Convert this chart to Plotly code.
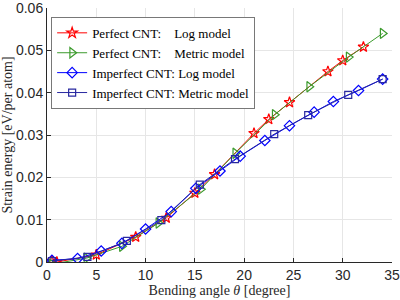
import plotly.graph_objects as go

# Perfect CNT: Log model (red stars)
pl_x = [0.5, 1.0, 5.0, 9.0, 12.1, 15.0, 17.0, 21.0, 22.5, 24.6, 28.5, 30.0, 32.1]
pl_y = [0.0002, 0.0, 0.0017, 0.0059, 0.0104, 0.0163, 0.0207, 0.0304, 0.0337, 0.0377, 0.0450, 0.0476, 0.0508]

# Perfect CNT: Metric model (green triangles)
pm_x = [0.5, 4.0, 7.6, 11.3, 15.6, 19.1, 23.1, 26.6, 30.6, 34.05]
pm_y = [-0.0005, 0.0009, 0.0037, 0.0092, 0.0172, 0.0257, 0.0348, 0.0414, 0.0484, 0.0540]

# Imperfect CNT: Log model (blue diamonds)
il_x = [0.5, 3.1, 5.5, 7.6, 10.0, 12.6, 15.1, 17.55, 19.6, 22.1, 24.6, 27.1, 29.05, 31.6, 34.05]
il_y = [0.0004, 0.0008, 0.0026, 0.0044, 0.0078, 0.0119, 0.0174, 0.0215, 0.0250, 0.0287, 0.0322, 0.0354, 0.0379, 0.0405, 0.0432]

# Imperfect CNT: Metric model (navy squares)
im_x = [0.5, 4.1, 8.1, 11.6, 15.5, 19.07, 23.05, 26.5, 30.56, 34.05]
im_y = [0.0002, 0.0012, 0.0050, 0.0099, 0.0183, 0.0243, 0.0302, 0.0347, 0.0395, 0.0432]

names = ["Perfect CNT:&nbsp;&nbsp;&nbsp;&nbsp;Log model",
         "Perfect CNT:&nbsp;&nbsp;&nbsp;&nbsp;Metric model",
         "Imperfect CNT: Log model",
         "Imperfect CNT: Metric model"]

red = "rgb(255,0,0)"
green = "rgb(60,155,45)"
blue = "rgb(0,0,255)"
navy = "rgb(40,40,160)"

fig = go.Figure()
fig.add_trace(go.Scatter(x=pl_x, y=pl_y, name=names[0], mode="lines+markers",
                         line=dict(color=red, width=1),
                         marker=dict(symbol="star-open", size=8, color=red, line=dict(width=1.2))))
fig.add_trace(go.Scatter(x=pm_x, y=pm_y, name=names[1], mode="lines+markers",
                         line=dict(color=green, width=1),
                         marker=dict(symbol="triangle-right-open", size=9, color=green, line=dict(width=1.2))))
fig.add_trace(go.Scatter(x=il_x, y=il_y, name=names[2], mode="lines+markers",
                         line=dict(color=blue, width=1),
                         marker=dict(symbol="diamond-open", size=8, color=blue, line=dict(width=1.2))))
fig.add_trace(go.Scatter(x=im_x, y=im_y, name=names[3], mode="lines+markers",
                         line=dict(color=navy, width=1),
                         marker=dict(symbol="square-open", size=7, color=navy, line=dict(width=1.2))))

serif = "Liberation Serif, DejaVu Serif, serif"
sans = "Liberation Sans, Arial, sans-serif"

fig.update_layout(
    width=400, height=300,
    margin=dict(l=47, r=8, t=8, b=38),
    paper_bgcolor="white", plot_bgcolor="white",
    showlegend=True,
    legend=dict(x=0.012, y=0.965, xanchor="left", yanchor="top",
                font=dict(family=serif, size=13, color="black"),
                bgcolor="white", bordercolor="rgb(120,120,120)", borderwidth=1,
                tracegroupgap=0, itemwidth=30),
    xaxis=dict(range=[0, 35], tickvals=[0, 5, 10, 15, 20, 25, 30, 35],
               automargin=False, ticklabeloverflow="allow",
               showgrid=True, gridcolor="rgb(230,230,230)", gridwidth=1,
               showline=True, linecolor="rgb(40,40,40)", linewidth=1,
               ticks="inside", ticklen=4, tickcolor="rgb(40,40,40)",
               tickfont=dict(family=sans, size=14, color="rgb(40,40,40)"),
               zeroline=False,
               title=dict(text="Bending angle <i>θ</i> [degree]", standoff=2,
                          font=dict(family=serif, size=14, color="rgb(40,40,40)"))),
    yaxis=dict(range=[0, 0.06], tickvals=[0, 0.01, 0.02, 0.03, 0.04, 0.05, 0.06],
               ticktext=["0", "0.01", "0.02", "0.03", "0.04", "0.05", "0.06"],
               automargin=False, ticklabeloverflow="allow",
               showgrid=True, gridcolor="rgb(230,230,230)", gridwidth=1,
               showline=True, linecolor="rgb(40,40,40)", linewidth=1,
               ticks="inside", ticklen=4, tickcolor="rgb(40,40,40)",
               tickfont=dict(family=sans, size=14, color="rgb(40,40,40)"),
               zeroline=False,
               title=dict(text="Strain energy [eV/per atom]", standoff=4,
                          font=dict(family=serif, size=14, color="rgb(40,40,40)"))),
)

fig.write_html("out.html", config={"displayModeBar": False},
               post_script="document.body.style.margin='0';document.body.style.padding='0';")
